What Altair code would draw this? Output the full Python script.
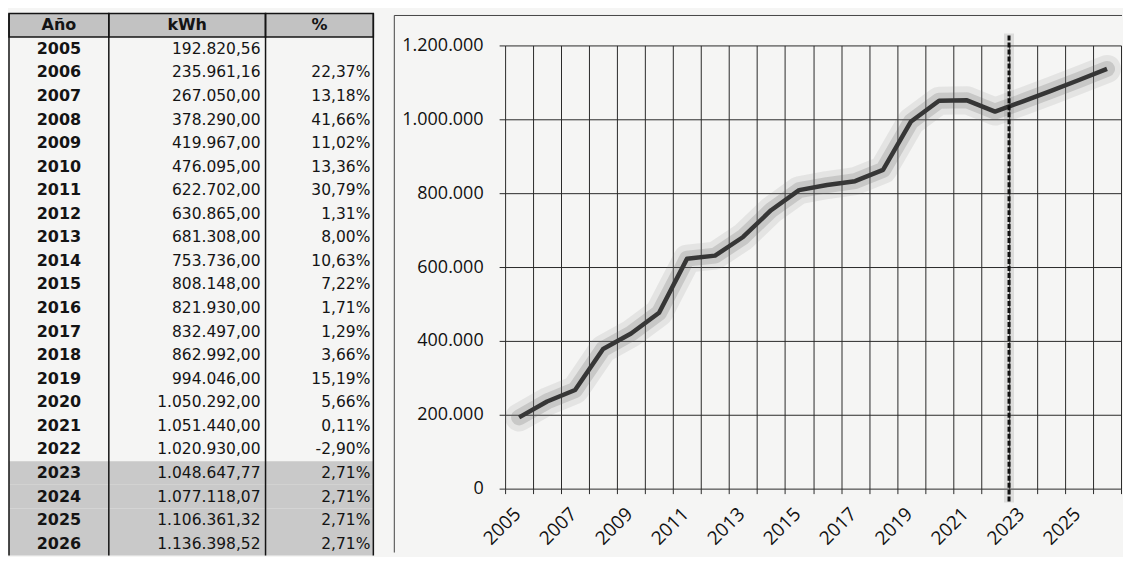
import altair as alt
import pandas as pd

# ---------------- data ----------------
years = [2005, 2006, 2007, 2008, 2009, 2010, 2011, 2012, 2013, 2014, 2015,
         2016, 2017, 2018, 2019, 2020, 2021, 2022, 2023, 2024, 2025, 2026]
kwh = [192820.56, 235961.16, 267050.00, 378290.00, 419967.00, 476095.00,
       622702.00, 630865.00, 681308.00, 753736.00, 808148.00, 821930.00,
       832497.00, 862992.00, 994046.00, 1050292.00, 1051440.00, 1020930.00,
       1048647.77, 1077118.07, 1106361.32, 1136398.52]
pct_change = [None, 22.37, 13.18, 41.66, 11.02, 13.36, 30.79, 1.31, 8.00,
              10.63, 7.22, 1.71, 1.29, 3.66, 15.19, 5.66, 0.11, -2.90,
              2.71, 2.71, 2.71, 2.71]
projected_years = [2023, 2024, 2025, 2026]
headers = ["Año", "kWh", "%"]
forecast_start = [2023]
y_ticks = [0, 200000, 400000, 600000, 800000, 1000000, 1200000]


def es_num(v, dec=2):
    s = f"{v:,.{dec}f}"
    return s.replace(",", "X").replace(".", ",").replace("X", ".")


# ---------------- layout constants ----------------
COL_EDGES = [0, 100, 257, 365]
TABLE_W = 366
TOP_EXT = 32            # how far the table rises above the shared panel origin
TABLE_TOTAL_H = 543
TABLE_H = TABLE_TOTAL_H - TOP_EXT
LINE_W = 617
LINE_H = 444
ROW_ORDER = ["hdr"] + [str(y) for y in years]
FONT_TABLE = "DejaVu Sans"
FONT_AXIS = "Open Sans"
INK = "#141414"

xs = alt.Scale(domain=[0, TABLE_W], nice=False, zero=False)
ys = alt.Scale(domain=ROW_ORDER, paddingInner=0, paddingOuter=0,
               range=[-TOP_EXT, TABLE_H])


def X(field, **kw):
    return alt.X(field, scale=xs, axis=None, **kw)


def Y(**kw):
    return alt.Y("row:N", scale=ys, axis=None, sort=ROW_ORDER, **kw)


rows_df = pd.DataFrame({
    "row": [str(y) for y in years],
    "year_txt": [str(y) for y in years],
    "kwh_txt": [es_num(v) for v in kwh],
    "pct_txt": ["" if p is None else es_num(p) + "%" for p in pct_change],
})

hdr_df = pd.DataFrame({
    "row": ["hdr"] * 3,
    "label": headers,
    "x0": COL_EDGES[:-1],
    "x1": COL_EDGES[1:],
})
hdr_df["xc"] = (hdr_df["x0"] + hdr_df["x1"]) / 2

shade_df = pd.DataFrame({"row": [str(y) for y in projected_years],
                         "x0": [COL_EDGES[0]] * 4, "x1": [COL_EDGES[-1]] * 4})
edges_df = pd.DataFrame({"x": COL_EDGES})

shade = alt.Chart(shade_df).mark_rect(color="#c9c9c9").encode(
    x=X("x0:Q"), x2="x1:Q", y=Y())
hdr_rect = alt.Chart(hdr_df).mark_rect(color="#c2c2c2", stroke=INK, strokeWidth=1.5).encode(
    x=X("x0:Q"), x2="x1:Q", y=Y())
vrules = alt.Chart(edges_df).mark_rule(color=INK, strokeWidth=1.5).encode(
    x=X("x:Q"), y=alt.value(-TOP_EXT), y2=alt.value(TABLE_H))
hdr_txt = alt.Chart(hdr_df).mark_text(font=FONT_TABLE, fontSize=16, fontWeight="bold",
                                      color=INK, align="center", baseline="middle").encode(
    x=X("xc:Q"), y=Y(), text="label:N")
year_txt = alt.Chart(rows_df).mark_text(font=FONT_TABLE, fontSize=16, fontWeight="bold",
                                        color=INK, align="center", baseline="middle").encode(
    x=alt.X(datum=(COL_EDGES[0] + COL_EDGES[1]) / 2, scale=xs, axis=None),
    y=Y(), text="year_txt:N")
kwh_txt = alt.Chart(rows_df).mark_text(font=FONT_TABLE, fontSize=15.5,
                                       color=INK, align="right", baseline="middle").encode(
    x=alt.X(datum=COL_EDGES[2] - 5, scale=xs, axis=None), y=Y(), text="kwh_txt:N")
pct_txt = alt.Chart(rows_df).mark_text(font=FONT_TABLE, fontSize=15.5,
                                       color=INK, align="right", baseline="middle").encode(
    x=alt.X(datum=COL_EDGES[3] - 3, scale=xs, axis=None), y=Y(), text="pct_txt:N")

table = alt.layer(shade, hdr_rect, vrules, hdr_txt, year_txt, kwh_txt, pct_txt).properties(
    width=TABLE_W, height=TABLE_H)

# ---------------- line chart ----------------
line_df = pd.DataFrame({"year": years, "kwh": kwh})
fc_df = pd.DataFrame({"year": forecast_start})

xband = alt.Scale(type="band", paddingInner=0, paddingOuter=0)
x_axis = alt.Axis(
    title=None, tickBand="extent", grid=True, gridColor="#2a2a2a", gridWidth=1,
    domain=False, ticks=True, tickSize=5, tickColor="#2a2a2a",
    labelAngle=-45, labelAlign="right", labelBaseline="middle", labelPadding=17,
    labelOffset=-2,
    labelFont=FONT_AXIS, labelFontSize=19, labelColor="#111",
    labelExpr="datum.value % 2 == 1 ? datum.label : ''",
)
y_axis = alt.Axis(
    title=None, values=y_ticks, grid=True, gridColor="#2a2a2a", gridWidth=1,
    domain=False, tickSize=6, tickColor="#2a2a2a", labelPadding=16,
    labelFont=FONT_AXIS, labelFontSize=18, labelColor="#111",
    labelExpr="replace(format(datum.value, ','), regexp(',', 'g'), '.')",
)
x_line = alt.X("year:O", bandPosition=0.5, scale=xband, axis=x_axis)
y_line = alt.Y("kwh:Q", scale=alt.Scale(domain=[0, 1200000], nice=False), axis=y_axis)

base = alt.Chart(line_df).encode(x=x_line, y=y_line)
glow1 = base.mark_line(color="#808080", strokeWidth=28, opacity=0.14,
                       strokeCap="round", strokeJoin="round")
glow2 = base.mark_line(color="#666666", strokeWidth=16, opacity=0.22,
                       strokeCap="round", strokeJoin="round")
line = base.mark_line(color="#363636", strokeWidth=4.5, strokeJoin="round")

fc_glow = alt.Chart(fc_df).mark_rule(color="#777", strokeWidth=10, opacity=0.2).encode(
    x=alt.X("year:O", bandPosition=0), y=alt.value(-12), y2=alt.value(LINE_H + 14))
fc_rule = alt.Chart(fc_df).mark_rule(color="#111", strokeWidth=3, strokeDash=[5, 2]).encode(
    x=alt.X("year:O", bandPosition=0), y=alt.value(-10), y2=alt.value(LINE_H + 14))

frame_df = pd.DataFrame({"k": [0]})
frame_top = alt.Chart(frame_df).mark_rule(color="#444", strokeWidth=1).encode(
    x=alt.value(-111), x2=alt.value(LINE_W + 1), y=alt.value(-30))
frame_left = alt.Chart(frame_df).mark_rule(color="#444", strokeWidth=1).encode(
    x=alt.value(-111), y=alt.value(-30), y2=alt.value(LINE_H + 64))

linechart = alt.layer(glow1, glow2, fc_glow, line, fc_rule, frame_top, frame_left).properties(
    width=LINE_W, height=LINE_H)

chart = alt.hconcat(table, linechart, spacing=19).properties(
    padding={"left": 0, "top": 4, "right": 0, "bottom": 0},
    background="#f5f5f4",
).configure_view(stroke=None)

chart.save("out.html", embed_options={"renderer": "svg", "actions": False})
